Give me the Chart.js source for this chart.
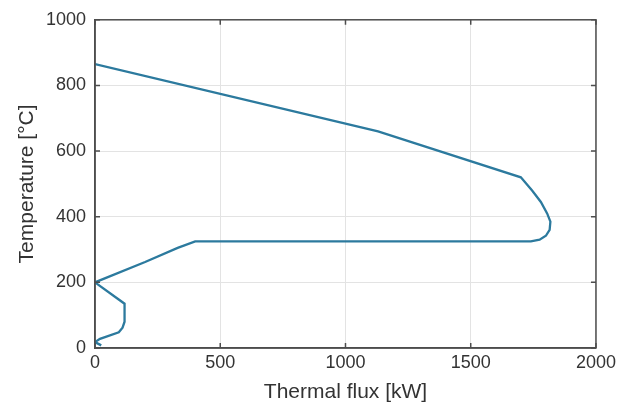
<!DOCTYPE html>
<html lang="en">
<head>
    <meta charset="UTF-8">
    <title>Thermal flux vs temperature</title>
    <script src="https://cdn.jsdelivr.net/npm/chart.js"></script>
    <style>
        html, body { margin: 0; padding: 0; background: #ffffff; }
        #wrap { width: 620px; height: 407px; }
    </style>
</head>
<body>
    <div id="wrap">
        <canvas id="fluxChart" width="620" height="407"></canvas>
    </div>

    <script>
        // Données (flux en kW, température en °C)
        var fluxValues = [0, 1130, 1700, 1745, 1780, 1805, 1818, 1815, 1800, 1775, 1740, 400, 330, 200, 0, 118, 118, 110, 95, 20, 0, 25];
        var tempValues = [865, 660, 520, 480, 445, 410, 385, 360, 342, 330, 325, 325, 305, 262, 200, 135, 80, 62, 48, 28, 18, 8];

        var xTicks = [0, 500, 1000, 1500, 2000];
        var yTicks = [0, 200, 400, 600, 800, 1000];

        var points = fluxValues.map(function (x, i) {
            return { x: x, y: tempValues[i] };
        });

        // Cadre complet + petites graduations vers l'intérieur (style MATLAB)
        var boxPlugin = {
            id: 'box',
            afterDraw: function (chart) {
                var ctx = chart.ctx;
                var a = chart.chartArea;
                var xs = chart.scales.x, ys = chart.scales.y;
                ctx.save();
                ctx.strokeStyle = '#4d4d4d';
                ctx.lineWidth = 1.5;
                ctx.strokeRect(a.left, a.top, a.right - a.left, a.bottom - a.top);
                ctx.beginPath();
                xTicks.forEach(function (v) {
                    var px = xs.getPixelForValue(v);
                    ctx.moveTo(px, a.bottom); ctx.lineTo(px, a.bottom - 5);
                    ctx.moveTo(px, a.top); ctx.lineTo(px, a.top + 5);
                });
                yTicks.forEach(function (v) {
                    var py = ys.getPixelForValue(v);
                    ctx.moveTo(a.left, py); ctx.lineTo(a.left + 5, py);
                    ctx.moveTo(a.right, py); ctx.lineTo(a.right - 5, py);
                });
                ctx.stroke();
                ctx.restore();
            }
        };

        var fontFamily = '"Liberation Sans", Arial, sans-serif';
        var plain = function (v) { return String(v); };

        var chart = new Chart(document.getElementById('fluxChart'), {
            type: 'scatter',
            data: {
                datasets: [{
                    data: points,
                    showLine: true,
                    borderColor: '#2c7a9e',
                    borderWidth: 2.3,
                    pointRadius: 0,
                    fill: false,
                    tension: 0
                }]
            },
            options: {
                responsive: false,
                animation: false,
                layout: { padding: { top: 17, right: 20, left: 0, bottom: 0 } },
                plugins: {
                    legend: { display: false },
                    tooltip: { enabled: false }
                },
                scales: {
                    x: {
                        type: 'linear',
                        min: 0,
                        max: 2000,
                        afterFit: function (s) { s.height = 59; },
                        afterBuildTicks: function (s) {
                            s.ticks = xTicks.map(function (v) { return { value: v }; });
                        },
                        ticks: {
                            color: '#333333',
                            font: { family: fontFamily, size: 18 },
                            padding: 4,
                            maxRotation: 0,
                            callback: plain
                        },
                        grid: { color: '#e3e3e3', drawTicks: false },
                        border: { color: '#4d4d4d', width: 1.5 },
                        title: {
                            display: true,
                            text: 'Thermal flux [kW]',
                            color: '#333333',
                            font: { family: fontFamily, size: 21 },
                            padding: { bottom: 2 }
                        }
                    },
                    y: {
                        type: 'linear',
                        min: 0,
                        max: 1000,
                        afterFit: function (s) { s.width = 95; },
                        afterBuildTicks: function (s) {
                            s.ticks = yTicks.map(function (v) { return { value: v }; });
                        },
                        ticks: {
                            color: '#333333',
                            font: { family: fontFamily, size: 18 },
                            padding: 9,
                            callback: plain
                        },
                        grid: { color: '#e3e3e3', drawTicks: false },
                        border: { color: '#4d4d4d', width: 1.5 },
                        title: {
                            display: true,
                            text: 'Temperature [°C]',
                            color: '#333333',
                            font: { family: fontFamily, size: 21 },
                            padding: { top: 15 }
                        }
                    }
                }
            },
            plugins: [boxPlugin]
        });
    </script>
</body>
</html>
